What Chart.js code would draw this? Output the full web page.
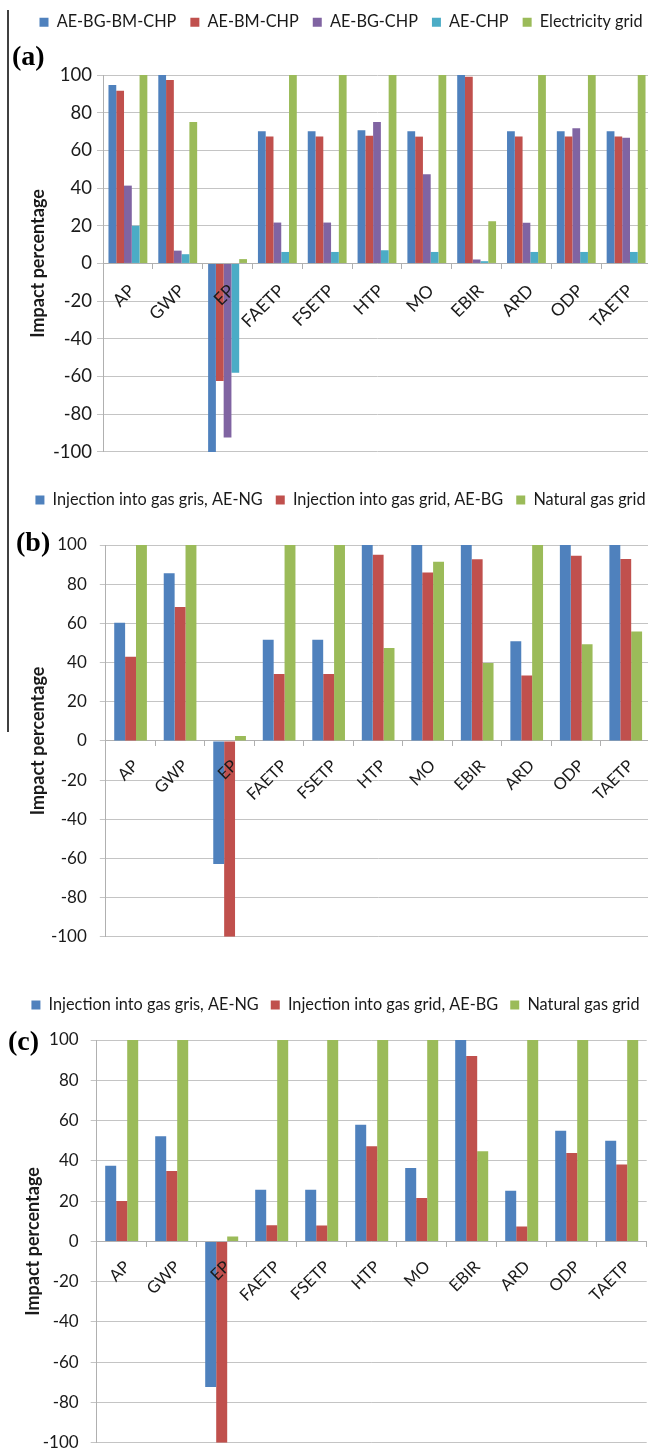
<!DOCTYPE html>
<html>
<head>
<meta charset="utf-8">
<title>Impact percentage by category</title>
<script src="https://cdn.jsdelivr.net/npm/chart.js@4.4.1/dist/chart.umd.min.js"></script>
<style>
  html, body { margin: 0; padding: 0; background: #fff; width: 648px; height: 1453px; overflow: hidden; }
  .panel { position: absolute; left: 0; }
  #frame { position: absolute; left: 7px; top: 10px; width: 2px; height: 722px; background: #404040; }
</style>
</head>
<body>
<div id="frame"></div>
<canvas id="chartA" class="panel" width="660" height="468" style="top:0px"></canvas>
<canvas id="chartB" class="panel" width="660" height="490" style="top:470px"></canvas>
<canvas id="chartC" class="panel" width="660" height="515" style="top:950px"></canvas>
<script>
// ---- data ----
const categories = ['AP', 'GWP', 'EP', 'FAETP', 'FSETP', 'HTP', 'MO', 'EBIR', 'ARD', 'ODP', 'TAETP'];
const yTickValues = [-100, -80, -60, -40, -20, 0, 20, 40, 60, 80, 100];

// (a) electricity routes
const chpLabels = ['AE-BG-BM-CHP', 'AE-BM-CHP', 'AE-BG-CHP', 'AE-CHP', 'Electricity grid'];
const aeBgBmChp = [94.7, 100, -100, 70.2, 70.2, 70.7, 70.2, 100, 70.2, 70.2, 70.2];
const aeBmChp   = [91.7, 97.4, -62.4, 67.3, 67.3, 67.8, 67.3, 99.1, 67.3, 67.3, 67.3];
const aeBgChp   = [41.3, 6.8, -92.3, 21.7, 21.7, 75.1, 47.3, 2.1, 21.6, 71.8, 66.7];
const aeChp     = [20.0, 4.9, -58.0, 6.1, 6.1, 7.0, 6.1, 1.2, 6.1, 6.1, 6.1];
const elecGrid  = [100, 75.1, 2.3, 100, 100, 100, 100, 22.4, 100, 100, 100];

// (b) and (c) gas routes
const gasLabels = ['Injection into gas gris, AE-NG', 'Injection into gas grid, AE-BG', 'Natural gas grid'];
const injNgB   = [60.3, 85.6, -62.8, 51.6, 51.6, 100, 100, 100, 50.9, 100, 100];
const injBgB   = [43.0, 68.4, -100, 34.2, 34.2, 95.0, 86.0, 92.7, 33.4, 94.5, 92.9];
const gasGridB = [100, 100, 2.5, 100, 100, 47.4, 91.4, 39.8, 100, 49.3, 55.9];
const injNgC   = [37.6, 52.2, -72.3, 25.7, 25.7, 57.9, 36.4, 100, 25.1, 54.9, 50.0];
const injBgC   = [20.0, 35.0, -100, 8.0, 7.9, 47.2, 21.5, 92.1, 7.4, 43.9, 38.2];
const gasGridC = [100, 100, 2.4, 100, 100, 100, 100, 44.8, 100, 100, 100];

// ---- styling ----
const chpColors = ['#4F81BD', '#C0504D', '#8064A2', '#4BACC6', '#9BBB59'];
const gasColors = ['#4F81BD', '#C0504D', '#9BBB59'];
const textColor = '#1a1a1a';
const gridColor = '#c4c4c4';
const axisColor = '#b0b0b0';

// Extra room under the legend and a sideways nudge of the legend row.
const legendTweak = {
  id: 'legendTweak',
  beforeUpdate(chart, args, opts) {
    const lg = chart.legend;
    if (lg && !lg.$gapPatched) {
      const fit = lg.fit;
      lg.fit = function () { fit.apply(this, arguments); this.height += (opts.gap || 0); };
      lg.$gapPatched = true;
    }
  },
  afterLayout(chart, args, opts) {
    const lg = chart.legend;
    if (lg && opts.shift) { lg.left += opts.shift; lg.right += opts.shift; }
  }
};

// Panel letter, e.g. "(a)", left of the value axis.
const panelTag = {
  id: 'panelTag',
  afterDraw(chart, args, opts) {
    const { ctx, chartArea } = chart;
    ctx.save();
    ctx.font = 'bold ' + opts.size + 'px "Liberation Serif", "Times New Roman", serif';
    ctx.fillStyle = '#000';
    ctx.textAlign = 'left';
    ctx.textBaseline = 'middle';
    ctx.fillText(opts.text, opts.x, chartArea.top + opts.dy);
    ctx.restore();
  }
};

function buildDatasets(labels, seriesList, colors, catPct) {
  return seriesList.map((values, i) => ({
    label: labels[i],
    data: values,
    backgroundColor: colors[i],
    borderWidth: 0,
    categoryPercentage: catPct,
    barPercentage: 1
  }));
}

function panelOptions(p) {
  return {
    responsive: false,
    animation: false,
    devicePixelRatio: 1,
    layout: { padding: { top: p.padTop, right: p.padRight, bottom: p.padBottom, left: 0 } },
    plugins: {
      legend: {
        position: 'top',
        align: 'center',
        labels: {
          boxWidth: 9, boxHeight: 9, padding: p.legendPad, color: textColor,
          font: { family: 'Lato', size: p.legendSize }
        }
      },
      tooltip: { enabled: false },
      legendTweak: { gap: p.legendGap, shift: p.legendShift },
      panelTag: { text: p.tag, x: p.tagX, dy: p.tagDy, size: 28 }
    },
    scales: {
      x: {
        position: { y: 0 },
        grid: { drawOnChartArea: false, drawTicks: true, tickLength: 5, color: axisColor, offset: true },
        border: { display: true, color: axisColor, width: 1 },
        ticks: {
          z: 1, autoSkip: false, minRotation: 45, maxRotation: 45,
          padding: p.xPad, labelOffset: p.xShift, color: textColor,
          font: { family: 'Lato', size: p.xFontSize }
        }
      },
      y: {
        min: -100, max: 100,
        afterBuildTicks: (s) => { s.ticks = yTickValues.map(v => ({ value: v })); },
        afterFit: (s) => { s.width = p.yWidth; },
        grid: { color: gridColor, tickLength: 6, drawTicks: true },
        border: { display: true, color: axisColor },
        ticks: {
          padding: p.yPad, color: textColor,
          font: { family: 'Lato', size: p.yFontSize },
          callback: (v) => String(v)
        },
        title: {
          display: true, text: 'Impact percentage', color: textColor,
          font: { family: 'Lato', size: 18, weight: 'bold' },
          padding: { top: p.titlePad, bottom: 0 }
        }
      }
    }
  };
}

Chart.register(legendTweak, panelTag);

new Chart(document.getElementById('chartA'), {
  type: 'bar',
  data: { labels: categories, datasets: buildDatasets(chpLabels, [aeBgBmChp, aeBmChp, aeBgChp, aeChp, elecGrid], chpColors, 0.78) },
  options: panelOptions({
    padTop: 0, padRight: 9, padBottom: 12,
    legendSize: 16.3, legendPad: 14, legendGap: 34.7, legendShift: 15.5,
    yWidth: 103, yPad: 5, titlePad: 27.2, yFontSize: 18.5, xFontSize: 17.5,
    xPad: 12, xShift: 4,
    tag: '(a)', tagX: 12, tagDy: -17
  })
});

new Chart(document.getElementById('chartB'), {
  type: 'bar',
  data: { labels: categories, datasets: buildDatasets(gasLabels, [injNgB, injBgB, gasGridB], gasColors, 0.66) },
  options: panelOptions({
    padTop: 8.9, padRight: 9.5, padBottom: 13,
    legendSize: 16.3, legendPad: 13, legendGap: 26.8, legendShift: 15.25,
    yWidth: 105.8, yPad: 13, titlePad: 27.2, yFontSize: 17, xFontSize: 16.5,
    xPad: 10, xShift: 5,
    tag: '(b)', tagX: 16, tagDy: -1
  })
});

new Chart(document.getElementById('chartC'), {
  type: 'bar',
  data: { labels: categories, datasets: buildDatasets(gasLabels, [injNgC, injBgC, gasGridC], gasColors, 0.66) },
  options: panelOptions({
    padTop: 34.9, padRight: 13.3, padBottom: 18,
    legendSize: 16.3, legendPad: 12, legendGap: 16.8, legendShift: 12.15,
    yWidth: 96.7, yPad: 12, titlePad: 22.7, yFontSize: 17, xFontSize: 16.5,
    xPad: 10.5, xShift: 5.5,
    tag: '(c)', tagX: 8, tagDy: 3
  })
});
</script>
</body>
</html>
